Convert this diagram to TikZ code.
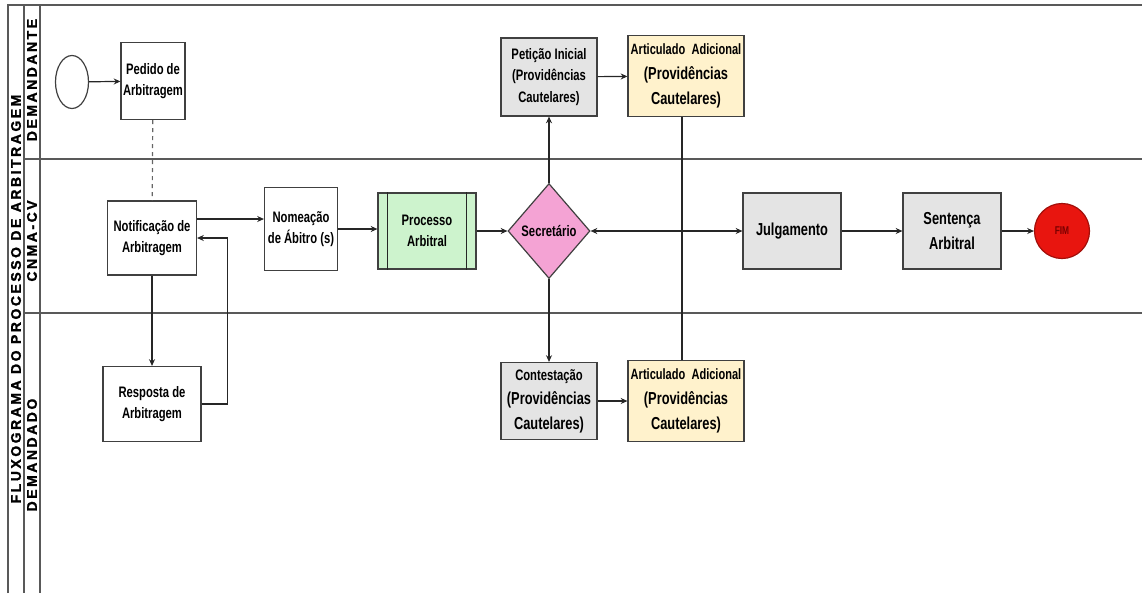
\documentclass[tikz,border=0pt]{standalone}
\usepackage{fontspec}
\setmainfont{Liberation Sans}
\newfontfamily\narrowfont{Liberation Sans}[FakeStretch=0.74]
\newfontfamily\lanefont{Liberation Sans}[UprightFont=*-Bold, LetterSpace=18, FakeBold=1.5]
\usetikzlibrary{arrows.meta, calc, shapes.geometric}
\definecolor{boxgray}{HTML}{E4E4E4}
\definecolor{boxgreen}{HTML}{CDF3CD}
\definecolor{boxyellow}{HTML}{FFF2CC}
\definecolor{boxpink}{HTML}{F4A3D4}
\definecolor{fimred}{HTML}{E8150F}
\definecolor{fimtext}{HTML}{7A0000}
\tikzset{%
    fra/.style={line width = 1pt, black!65},
    lin/.style={line width = 0.9pt, black!85},
    lina/.style={line width = 0.9pt, black!85, -{Stealth[length=5pt,width=4.5pt]}},
    linda/.style={line width = 0.9pt, black!85, {Stealth[length=5pt,width=4.5pt]}-{Stealth[length=5pt,width=4.5pt]}},
    blo/.style={rectangle, draw=black!75, line width = 0.9pt, align=center, inner sep=1pt,
        font=\narrowfont\bfseries\fontsize{11.4}{16}\selectfont},
    lane/.style={rotate=90, inner sep=0pt, font=\lanefont\fontsize{10.5}{12}\selectfont},
}

\begin{document}
\begin{tikzpicture}[x=0.75pt, y=-0.75pt]
    \useasboundingbox (0,0) rectangle (1142,593);
    \draw [fra] (8,593) -- (8,5) -- (1142,5);
    \draw [fra] (24,5) -- (24,593);
    \draw [fra] (40,5) -- (40,593);
    \draw [fra] (24,159) -- (1142,159);
    \draw [fra] (24,313) -- (1142,313);
    \node [lane] (tit) at (16,299) {FLUXOGRAMA DO PROCESSO DE ARBITRAGEM};
    \node [lane] (dte) at (32,80) {DEMANDANTE};
    \node [lane] (cnm) at (32,241) {CNMA-CV};
    \node [lane] (ddo) at (32,455) {DEMANDADO};

    \node [ellipse, draw=black!75, line width=0.9pt, minimum width=24.75pt, minimum height=39.75pt, inner sep=0pt] (ini) at (72,82) {};
    \node [blo, minimum width=48pt, minimum height=57.75pt] (ped) at (153,81) {Pedido de\\Arbitragem};
    \node [blo, minimum width=66.75pt, minimum height=55.5pt] (notif) at (152,238) {Notificação de\\Arbitragem};
    \node [blo, minimum width=73.5pt, minimum height=56.25pt] (resp) at (152,404) {Resposta de\\Arbitragem};
    \node [blo, minimum width=54.75pt, minimum height=62.25pt] (nom) at (301,229) {Nomeação\\de Ábitro (s)};
    \node [blo, fill=boxgreen, minimum width=73.5pt, minimum height=57pt] (proc) at (427,231) {Processo\\Arbitral};
    \node [diamond, draw=black!75, line width=0.9pt, fill=boxpink, aspect=0.86, minimum width=61.5pt, minimum height=71.25pt, inner sep=0pt,
        font=\narrowfont\bfseries\fontsize{11.4}{16}\selectfont] (secr) at (549,231) {Secretário};
    \node [blo, fill=boxgray, minimum width=73.5pt, minimum height=57pt, font=\narrowfont\bfseries\fontsize{13}{18.5}\selectfont] (julg) at (792,231) {Julgamento};
    \node [blo, fill=boxgray, minimum width=73.5pt, minimum height=57pt, font=\narrowfont\bfseries\fontsize{13}{18.5}\selectfont] (sent) at (952,231) {Sentença\\Arbitral};
    \node [circle, draw=fimred!70!black, line width=0.9pt, fill=fimred, minimum size=41.25pt, inner sep=0pt,
        text=fimtext, font=\narrowfont\bfseries\fontsize{8.5}{9}\selectfont] (fim) at (1062,231) {FIM};
    \node [blo, fill=boxgray, minimum width=72pt, minimum height=58.5pt] (pet) at (549,77) {Petição Inicial\\(Providências\\Cautelares)};
    \node [blo, fill=boxyellow, minimum width=87pt, minimum height=60.75pt, font=\narrowfont\bfseries\fontsize{13}{18.5}\selectfont] (artA) at (686,76)
        {{\fontsize{11.2}{18.5}\selectfont Articulado\ \ Adicional}\\(Providências\\Cautelares)};
    \node [blo, fill=boxgray, minimum width=72pt, minimum height=57.75pt, font=\narrowfont\bfseries\fontsize{13}{18.5}\selectfont] (cont) at (549,401)
        {{\fontsize{11.4}{18.5}\selectfont Contestação}\\(Providências\\Cautelares)};
    \node [blo, fill=boxyellow, minimum width=87pt, minimum height=60.75pt, font=\narrowfont\bfseries\fontsize{13}{18.5}\selectfont] (artB) at (686,401)
        {{\fontsize{11.2}{18.5}\selectfont Articulado\ \ Adicional}\\(Providências\\Cautelares)};
    \draw [lin] ($(proc.north west)+(10,0)$) -- ($(proc.south west)+(10,0)$);
    \draw [lin] ($(proc.north east)+(-10,0)$) -- ($(proc.south east)+(-10,0)$);

    \draw [lina] (ini) -- (ped);
    \draw [lin, dashed, black!60] (ped) -- (notif);
    \draw [lina] ($(notif.east)+(0,-19)$) coordinate (n1) -- (n1 -| nom.west);
    \draw [lina] (notif) -- (resp);
    \draw [lina] (resp.east) -- ++(26,0) |- (notif.east);
    \draw [lina] (nom.east) -- (nom.east -| proc.west);
    \draw [lina] (proc) -- (secr);
    \draw [linda] (secr) -- (julg);
    \draw [lina] (julg) -- (sent);
    \draw [lina] (sent) -- (fim);
    \draw [lina] (secr) -- (pet);
    \draw [lina] (secr) -- (cont);
    \draw [lina] (pet) -- (artA);
    \draw [lina] (cont) -- (artB);
    \draw [lin] ($(artA.south)+(-4,0)$) coordinate (a1) -- (a1 |- artB.north);
\end{tikzpicture}
\end{document}
